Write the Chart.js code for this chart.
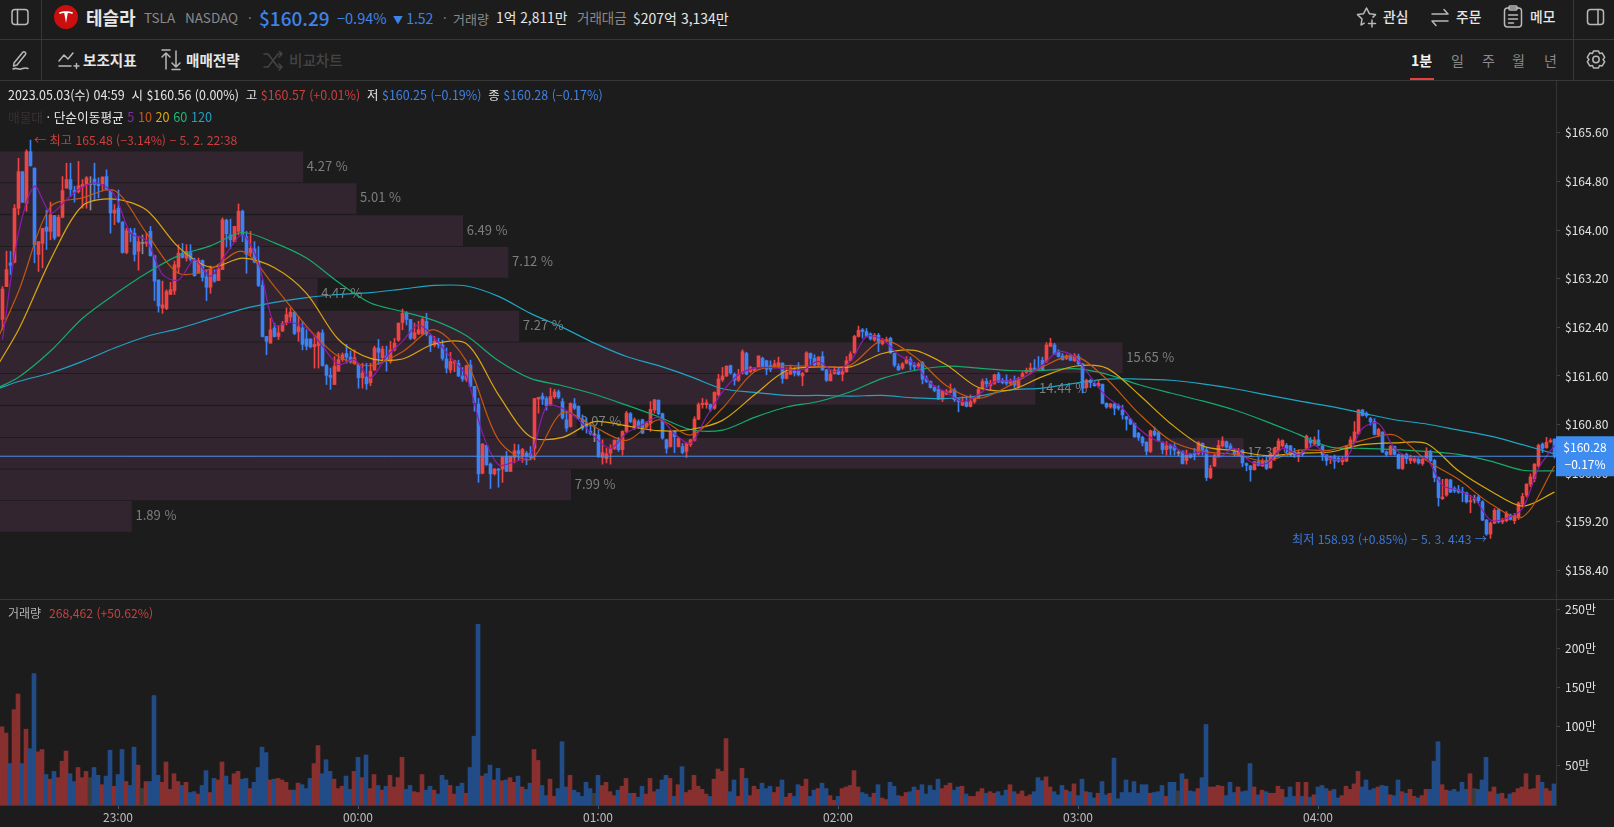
<!DOCTYPE html>
<html lang="ko">
<head>
<meta charset="utf-8">
<title>테슬라 1분봉</title>
<script src="https://cdn.jsdelivr.net/npm/chart.js@4/dist/chart.umd.js"></script>
<style>
html,body{margin:0;padding:0;width:1614px;height:827px;background:#1c1c1c;overflow:hidden;font-family:"Noto Sans CJK KR","Noto Sans",sans-serif;}
canvas{position:absolute;left:0;}
.t{position:absolute;white-space:nowrap;transform:translateY(-50%);line-height:1;color:#e6e6e6;z-index:5;}
.g{color:#8a8a8a}.b{color:#3f83e6}.r{color:#c9403f}.w{color:#e6e6e6}
.hl{position:absolute;background:#383838;z-index:4}
svg{position:absolute;z-index:5;fill:none;stroke:#b8b8b8;stroke-width:1.5;stroke-linecap:round;stroke-linejoin:round}
</style>
</head>
<body>
<canvas id="profile" width="1614" height="518" style="top:81px"></canvas>
<canvas id="price" width="1614" height="518" style="top:81px"></canvas>
<canvas id="volume" width="1614" height="227" style="top:600px"></canvas>

<div class="hl" style="left:0;top:39px;width:1614px;height:1px"></div>
<div class="hl" style="left:0;top:80px;width:1614px;height:1px"></div>
<div class="hl" style="left:0;top:599px;width:1614px;height:1px"></div>
<div class="hl" style="left:41px;top:0;width:1px;height:80px"></div>
<div class="hl" style="left:1573px;top:0;width:1px;height:80px"></div>
<div class="hl" style="left:1410px;top:78px;width:24px;height:2px;background:#e5403f"></div>

<svg style="left:10px;top:8px" width="20" height="18"><rect x="2" y="1.5" width="16" height="15" rx="3"/><path d="M7.5 1.5v15"/></svg>
<svg style="left:54px;top:5px;stroke:none" width="24" height="24"><circle cx="12" cy="12" r="12" fill="#c90f0f"/><path d="M5 7.5c4-1.6 10-1.6 14 0l-.6 1.6c-1.6-.7-3-.9-4.6-1l-1.8 10-1.8-10c-1.6.1-3 .3-4.6 1z" fill="#fff"/></svg>
<span class="t" style="left:86px;top:17px;font-size:18px;font-weight:700">테슬라</span>
<span class="t g" style="left:144px;top:18px;font-size:13.5px;word-spacing:6px">TSLA NASDAQ</span>
<span class="t g" style="left:248px;top:17px;font-size:13px">·</span>
<span class="t b" style="left:259px;top:17px;font-size:19px;font-weight:500">$160.29</span>
<span class="t b" style="left:337px;top:18px;font-size:14.500px">−0.94%</span>
<span class="t b" style="left:393px;top:18px;font-size:14px"><span style="font-size:10px">▼</span> 1.52</span>
<span class="t g" style="left:443px;top:17px;font-size:13px">·</span>
<span class="t g" style="left:453px;top:18px;font-size:13px">거래량</span>
<span class="t" style="left:496px;top:18px;font-size:13.8px">1억 2,811만</span>
<span class="t g" style="left:577px;top:18px;font-size:13.5px">거래대금</span>
<span class="t" style="left:633px;top:18px;font-size:14px">$207억 3,134만</span>

<svg style="left:1356px;top:6px" width="22" height="22"><path d="M8.200 17.200 5 19l1-6L1.500 8.600l6.100-.9L10.500 2l2.900 5.700 6.100.9-2.500 2.500M12.500 17.500h7M16 14v7"/></svg>
<span class="t" style="left:1383px;top:17px;font-size:13.800px;font-weight:500">관심</span>
<svg style="left:1430px;top:6px" width="20" height="22"><path d="M2 8h16M14 3.500 18 8M18 15H2M6 19.500 2 15"/></svg>
<span class="t" style="left:1456px;top:17px;font-size:13.800px;font-weight:500">주문</span>
<svg style="left:1503px;top:5px" width="20" height="24"><rect x="1.500" y="3" width="17" height="19" rx="3"/><rect x="6" y="1" width="8" height="4" rx="1"/><path d="M5.500 10h9M5.500 14h9M5.500 18h5"/></svg>
<span class="t" style="left:1530px;top:17px;font-size:13.800px;font-weight:500">메모</span>
<svg style="left:1586px;top:8px" width="20" height="18"><rect x="1.500" y="1.500" width="16" height="15" rx="3"/><path d="M12 1.500v15"/></svg>

<svg style="left:10px;top:49px" width="22" height="22"><path d="M4 14 13 3c1-1 3.500 .8 2.600 2.200L7 16l-3.500 1zM3 20c4-2 5 1 8 0s4-2 7-.5"/></svg>
<svg style="left:58px;top:51px" width="22" height="20"><path d="M1 10 6 4l4 4 5-6M1 15h12M16 15h5M18.500 12.500v5"/></svg>
<span class="t" style="left:83px;top:60px;font-size:14.600px;font-weight:700">보조지표</span>
<svg style="left:160px;top:49px" width="22" height="22"><path d="M6 20V4M2 8l4-4 4 4M16 2v16M12 14l4 4 4-4M2 1h8M12 20.500h8"/></svg>
<span class="t" style="left:186px;top:60px;font-size:14.600px;font-weight:700">매매전략</span>
<svg style="left:263px;top:51px;stroke:#444" width="22" height="20"><path d="M1 3h4l10 13h4M1 16h4l10-13h4M16 0l3 3-3 3M16 13l3 3-3 3"/></svg>
<span class="t" style="left:289px;top:60px;font-size:14.600px;font-weight:500;color:#444">비교차트</span>

<span class="t" style="left:1411px;top:60px;font-size:14px;font-weight:700;color:#f2f2f2">1분</span>
<span class="t g" style="left:1451px;top:60px;font-size:14px">일</span>
<span class="t g" style="left:1482px;top:60px;font-size:14px">주</span>
<span class="t g" style="left:1512px;top:60px;font-size:14px">월</span>
<span class="t g" style="left:1544px;top:60px;font-size:14px">년</span>
<svg style="left:1585px;top:49px" width="22" height="22"><path d="M8.500 2h5l1 2.500 2.700-.4 2.500 4.300-1.700 2.100 1.700 2.100-2.500 4.300-2.700-.4-1 2.500h-5l-1-2.500-2.700.4-2.500-4.300 1.700-2.100-1.700-2.100 2.500-4.300 2.700.4z"/><circle cx="11" cy="10.500" r="3.200"/></svg>

<span class="t" style="left:8px;top:95px;font-size:12.450px"><span class="w">2023.05.03(수) 04:59</span>&nbsp; <span class="w">시 $160.56 (0.00%)</span>&nbsp; <span class="w">고</span> <span class="r">$160.57 (+0.01%)</span>&nbsp; <span class="w">저</span> <span class="b">$160.25 (−0.19%)</span>&nbsp; <span class="w">종</span> <span class="b">$160.28 (−0.17%)</span></span>
<span class="t" style="left:8px;top:117px;font-size:12.700px"><span style="color:#3a2f35">매물대</span> <span class="w">· 단순이동평균</span> <span style="color:#7b2fa0">5</span> <span style="color:#c8581e">10</span> <span style="color:#dca912">20</span> <span style="color:#1eb878">60</span> <span style="color:#22a0c8">120</span></span>
<span class="t r" style="left:34px;top:140px;font-size:12.200px">← 최고 165.48 (−3.14%) − 5. 2. 22:38</span>
<span class="t b" style="left:1292px;top:539px;font-size:12.100px;color:#3c78d8">최저 158.93 (+0.85%) − 5. 3. 4:43 →</span>
<span class="t" style="left:8px;top:613px;font-size:12px;color:#b5b5b5">거래량</span>
<span class="t r" style="left:49px;top:613px;font-size:12.200px">268,462 (+50.62%)</span>

<script>
const opens=[
162.53,163.07,163.46,163.47,164.36,164.96,164.44,165.29,165.02,163.60,
163.78,164.05,163.98,164.24,163.90,164.21,164.69,164.83,164.65,164.63,
164.71,164.75,164.75,164.84,164.77,164.76,164.88,164.66,164.28,164.36,
164.13,163.63,163.99,163.95,163.65,163.78,163.78,163.98,163.58,163.18,
162.72,162.71,162.94,163.00,163.39,163.62,163.54,163.63,163.51,163.29,
163.50,163.23,163.06,163.27,163.17,163.35,164.16,163.92,163.81,163.98,
164.31,163.89,163.62,163.69,163.49,163.09,162.25,162.14,162.39,162.25,
162.34,162.48,162.57,162.65,162.33,162.39,162.21,162.21,162.08,162.10,
162.31,161.77,161.61,161.46,161.68,161.87,161.97,161.91,161.81,161.79,
161.57,161.58,161.49,161.70,162.06,161.90,161.93,161.84,162.03,162.19,
162.48,162.63,162.53,162.22,162.30,162.29,162.50,162.26,162.11,162.16,
162.11,161.88,161.70,161.81,161.81,161.60,161.54,161.78,161.43,161.14,
160.00,160.46,160.15,159.99,160.07,160.07,160.28,160.03,160.26,160.37,
160.28,160.33,160.33,160.41,161.22,161.27,161.23,161.13,161.26,161.34,
161.18,160.88,160.77,161.14,161.10,160.89,160.82,160.69,160.63,160.63,
160.26,160.24,160.33,160.41,160.54,160.39,160.69,160.98,160.74,160.85,
160.88,160.76,160.82,161.04,161.20,160.98,160.55,160.44,160.69,160.44,
160.44,160.36,160.47,160.54,160.89,161.13,161.13,161.13,161.07,161.29,
161.54,161.60,161.77,161.63,161.53,161.65,161.97,161.67,161.69,161.74,
161.89,161.85,161.77,161.74,161.74,161.81,161.56,161.63,161.70,161.70,
161.60,161.67,161.97,161.89,161.78,161.92,161.70,161.52,161.64,161.70,
161.63,161.67,161.85,161.98,162.25,162.36,162.33,162.29,162.19,162.27,
162.13,162.17,162.22,161.97,161.76,161.73,161.81,161.87,161.78,161.76,
161.82,161.55,161.51,161.41,161.38,161.22,161.30,161.33,161.37,161.22,
161.12,161.17,161.10,161.18,161.24,161.40,161.51,161.44,161.48,161.63,
161.53,161.53,161.48,161.53,161.43,161.58,161.66,161.67,161.73,161.73,
161.86,161.84,162.09,162.11,162.00,161.93,161.89,161.92,161.85,161.92,
161.80,161.41,161.53,161.48,161.44,161.46,161.15,161.09,161.14,161.11,
161.04,160.93,160.89,160.82,160.66,160.59,160.51,160.36,160.69,160.67,
160.50,160.39,160.45,160.44,160.33,160.36,160.21,160.31,160.33,160.32,
160.49,160.38,159.93,160.12,160.28,160.45,160.52,160.45,160.36,160.30,
160.38,160.16,160.12,160.06,160.19,160.12,160.21,160.09,160.24,160.37,
160.45,160.46,160.45,160.35,160.28,160.35,160.41,160.54,160.48,160.55,
160.45,160.30,160.23,160.26,160.25,160.19,160.20,160.45,160.52,160.65,
161.04,160.98,160.90,160.85,160.63,160.68,160.35,160.31,160.44,160.31,
160.08,160.31,160.21,160.20,160.23,160.16,160.24,160.36,160.21,159.93,
159.58,159.64,159.89,159.75,159.73,159.69,159.68,159.53,159.56,159.61,
159.53,159.23,159.00,159.18,159.40,159.20,159.22,159.31,159.22,159.27,
159.49,159.64,159.82,159.91,160.12,160.48,160.42,160.52,160.56];
const closes=[
163.03,163.35,163.42,164.36,164.96,164.46,165.29,165.06,163.76,163.81,
164.03,163.98,164.25,163.87,164.21,164.65,164.83,164.67,164.62,164.73,
164.75,164.86,164.75,164.75,164.73,164.87,164.67,164.28,164.33,164.14,
163.63,163.99,163.96,163.60,163.81,163.78,163.81,163.58,163.16,162.75,
162.77,162.99,163.02,163.43,163.62,163.55,163.65,163.52,163.25,163.50,
163.22,163.06,163.36,163.16,163.36,164.17,163.94,163.84,164.06,164.31,
163.92,163.60,163.70,163.47,163.09,162.25,162.17,162.36,162.25,162.31,
162.46,162.61,162.65,162.30,162.41,162.12,162.09,162.08,162.12,162.31,
161.77,161.61,161.58,161.76,161.87,161.95,161.91,161.84,161.90,161.57,
161.65,161.47,161.68,162.06,161.99,162.04,161.86,162.03,162.14,162.47,
162.63,162.53,162.22,162.31,162.36,162.53,162.29,162.11,162.17,162.11,
161.89,161.73,161.84,161.85,161.60,161.55,161.77,161.43,161.16,159.99,
160.48,160.14,159.99,160.07,160.05,160.26,160.03,160.28,160.37,160.32,
160.39,160.28,160.26,161.23,161.25,161.22,161.11,161.26,161.34,161.25,
160.91,160.74,161.15,161.07,160.91,160.74,160.77,160.65,160.63,160.28,
160.34,160.32,160.41,160.54,160.39,160.69,160.99,160.85,160.88,160.77,
160.66,160.83,161.05,161.21,160.98,160.58,160.41,160.69,160.60,160.58,
160.34,160.49,160.55,160.89,161.13,161.15,161.16,161.05,161.33,161.55,
161.60,161.76,161.65,161.53,161.63,162.00,161.63,161.74,161.73,161.93,
161.74,161.71,161.71,161.80,161.82,161.56,161.66,161.74,161.65,161.62,
161.64,161.98,161.89,161.78,161.91,161.70,161.53,161.63,161.70,161.63,
161.67,161.85,161.96,162.25,162.35,162.33,162.25,162.21,162.27,162.14,
162.18,162.20,161.98,161.78,161.70,161.80,161.87,161.78,161.75,161.80,
161.55,161.51,161.41,161.36,161.22,161.36,161.34,161.36,161.21,161.18,
161.18,161.10,161.18,161.26,161.38,161.51,161.47,161.48,161.62,161.51,
161.49,161.48,161.52,161.45,161.56,161.64,161.69,161.73,161.71,161.71,
161.70,162.11,162.14,161.96,161.92,161.87,161.93,161.86,161.93,161.80,
161.40,161.53,161.49,161.44,161.48,161.15,161.09,161.14,161.07,161.07,
160.96,160.89,160.81,160.60,160.59,160.50,160.36,160.70,160.63,160.54,
160.39,160.45,160.41,160.38,160.33,160.16,160.30,160.26,160.30,160.50,
160.38,159.93,160.08,160.30,160.46,160.53,160.43,160.39,160.31,160.37,
160.17,160.13,160.06,160.19,160.13,160.20,160.08,160.32,160.41,160.53,
160.54,160.41,160.30,160.30,160.34,160.31,160.61,160.50,160.55,160.46,
160.30,160.21,160.26,160.20,160.20,160.24,160.45,160.55,160.68,161.04,
160.95,160.95,160.85,160.64,160.72,160.35,160.31,160.44,160.31,160.08,
160.30,160.24,160.26,160.24,160.17,160.23,160.36,160.21,159.93,159.60,
159.61,159.90,159.69,159.71,159.69,159.68,159.53,159.55,159.56,159.55,
159.23,159.00,159.18,159.39,159.20,159.23,159.34,159.24,159.31,159.51,
159.62,159.82,159.94,160.15,160.46,160.41,160.51,160.54,160.28];
const highs=[
163.07,163.65,163.65,164.42,165.18,164.96,165.32,165.48,165.02,163.81,
164.03,164.33,164.46,164.24,164.25,164.88,165.10,165.10,164.72,165.13,
164.83,164.88,164.88,165.10,164.86,164.88,164.99,164.66,164.42,164.66,
164.14,164.03,164.03,164.03,163.90,163.92,163.95,164.06,163.58,163.18,
163.16,163.02,163.14,163.49,163.76,163.78,163.76,163.76,163.54,163.54,
163.51,163.35,163.41,163.35,163.43,164.20,164.18,164.18,164.06,164.43,
164.33,163.98,163.98,163.81,163.73,163.18,162.25,162.55,162.47,162.42,
162.50,162.72,162.72,162.66,162.58,162.50,162.36,162.21,162.25,162.33,
162.36,161.79,161.73,161.92,161.97,161.98,162.12,162.01,162.03,161.81,
161.81,161.81,161.81,162.09,162.20,162.09,162.09,162.17,162.22,162.47,
162.70,162.66,162.53,162.47,162.50,162.57,162.63,162.28,162.25,162.22,
162.19,162.06,161.99,161.86,161.86,161.74,161.78,161.86,161.43,161.23,
160.49,160.46,160.17,160.08,160.08,160.28,160.36,160.28,160.48,160.47,
160.41,160.36,160.44,161.23,161.25,161.32,161.26,161.40,161.38,161.37,
161.23,161.02,161.16,161.23,161.11,160.96,160.91,160.82,160.77,160.71,
160.55,160.41,160.47,160.55,160.59,160.70,161.02,161.00,160.91,160.88,
160.89,160.85,161.18,161.21,161.21,160.99,160.56,160.70,160.70,160.59,
160.49,160.51,160.56,160.93,161.16,161.23,161.21,161.14,161.34,161.63,
161.74,161.77,161.78,161.65,161.71,162.03,161.99,161.76,161.74,161.93,
161.91,161.86,161.85,161.86,161.91,161.82,161.74,161.78,161.74,161.82,
161.66,162.00,161.98,161.95,161.92,162.00,161.71,161.71,161.75,161.73,
161.75,161.92,162.00,162.27,162.42,162.38,162.38,162.31,162.30,162.30,
162.22,162.24,162.24,161.98,161.80,161.82,161.92,161.91,161.82,161.82,
161.84,161.60,161.52,161.44,161.44,161.36,161.38,161.47,161.40,161.23,
161.26,161.27,161.29,161.27,161.41,161.55,161.56,161.53,161.63,161.66,
161.56,161.62,161.55,161.60,161.58,161.67,161.73,161.81,161.87,161.92,
161.91,162.15,162.22,162.14,162.03,161.97,161.95,161.96,161.97,161.96,
161.81,161.55,161.55,161.52,161.53,161.47,161.16,161.15,161.15,161.14,
161.12,160.94,160.90,160.83,160.67,160.61,160.52,160.71,160.76,160.69,
160.52,160.52,160.48,160.49,160.37,160.37,160.38,160.33,160.41,160.52,
160.50,160.41,160.13,160.32,160.54,160.60,160.53,160.49,160.41,160.41,
160.39,160.17,160.13,160.20,160.26,160.24,160.27,160.33,160.43,160.57,
160.55,160.49,160.46,160.41,160.38,160.37,160.63,160.59,160.60,160.71,
160.46,160.31,160.28,160.30,160.27,160.27,160.46,160.60,160.85,161.05,
161.05,161.01,160.92,160.90,160.74,160.68,160.37,160.46,160.45,160.32,
160.31,160.33,160.30,160.28,160.26,160.26,160.42,160.38,160.23,159.94,
159.90,159.91,159.90,159.78,159.80,159.77,159.69,159.64,159.64,159.64,
159.55,159.24,159.20,159.42,159.42,159.26,159.37,159.33,159.34,159.53,
159.67,159.83,159.99,160.16,160.48,160.50,160.59,160.57,160.57];
const lows=[
162.36,163.07,163.27,163.46,164.25,164.45,164.31,165.05,163.46,163.32,
163.38,163.68,163.84,163.84,163.90,164.20,164.69,164.55,164.46,164.61,
164.36,164.36,164.33,164.50,164.53,164.64,164.66,163.95,164.09,164.12,
163.62,163.61,163.81,163.49,163.34,163.61,163.73,163.57,162.84,162.65,
162.63,162.69,162.94,162.94,163.29,163.54,163.49,163.49,163.24,163.29,
163.16,162.84,162.96,163.14,163.17,163.35,163.72,163.70,163.80,163.92,
163.81,163.29,163.58,163.46,163.07,162.24,161.95,162.14,162.24,162.20,
162.33,162.44,162.50,162.28,162.17,162.03,162.03,162.06,161.73,161.73,
161.76,161.46,161.38,161.46,161.68,161.84,161.81,161.81,161.79,161.40,
161.40,161.38,161.44,161.69,161.79,161.81,161.68,161.81,162.01,162.17,
162.36,162.44,162.20,162.20,162.28,162.28,162.26,162.00,162.08,162.06,
161.86,161.65,161.65,161.67,161.59,161.51,161.51,161.42,161.02,159.85,
159.99,160.13,159.75,159.97,159.77,159.85,160.03,160.03,160.17,160.22,
160.18,160.14,160.22,160.22,160.99,161.13,161.04,161.11,161.23,161.23,
160.89,160.69,160.76,161.05,160.89,160.71,160.66,160.63,160.52,160.26,
160.15,160.17,160.15,160.39,160.36,160.30,160.67,160.83,160.72,160.74,
160.65,160.74,160.69,160.99,160.96,160.56,160.33,160.43,160.34,160.43,
160.32,160.26,160.44,160.53,160.88,161.07,161.07,161.02,161.05,161.27,
161.51,161.59,161.63,161.45,161.51,161.63,161.62,161.65,161.67,161.73,
161.73,161.62,161.67,161.73,161.74,161.48,161.55,161.62,161.60,161.60,
161.44,161.66,161.78,161.76,161.76,161.69,161.51,161.52,161.63,161.62,
161.52,161.66,161.85,161.97,162.24,162.22,162.24,162.19,162.17,162.00,
162.11,162.15,161.97,161.75,161.69,161.71,161.80,161.70,161.69,161.73,
161.47,161.49,161.40,161.34,161.21,161.18,161.29,161.32,161.18,161.01,
161.11,161.09,161.09,161.15,161.23,161.38,161.41,161.37,161.46,161.49,
161.47,161.45,161.44,161.41,161.40,161.56,161.64,161.66,161.70,161.70,
161.69,161.82,162.08,161.95,161.91,161.86,161.87,161.85,161.84,161.78,
161.32,161.40,161.41,161.43,161.41,161.14,161.07,161.07,160.96,161.04,
160.89,160.71,160.80,160.59,160.54,160.45,160.30,160.34,160.61,160.52,
160.32,160.30,160.30,160.30,160.29,160.15,160.15,160.25,160.22,160.30,
160.30,159.88,159.91,160.11,160.27,160.43,160.41,160.38,160.28,160.28,
160.11,160.04,159.87,160.05,160.12,160.11,160.06,160.08,160.21,160.35,
160.43,160.30,160.28,160.26,160.19,160.28,160.39,160.43,160.46,160.45,
160.21,160.13,160.16,160.08,160.18,160.14,160.19,160.43,160.50,160.64,
160.94,160.92,160.79,160.63,160.60,160.34,160.28,160.30,160.30,160.07,
160.06,160.16,160.16,160.17,160.15,160.13,160.21,160.19,159.86,159.46,
159.57,159.62,159.68,159.68,159.67,159.53,159.51,159.35,159.51,159.51,
159.22,158.98,158.93,159.17,159.18,159.17,159.20,159.23,159.17,159.24,
159.44,159.61,159.78,159.86,160.10,160.34,160.41,160.50,160.25];
const volumesMan=[
100,92,53,122,142,53,97,72,168,68,
71,39,33,43,35,56,69,40,30,48,
35,43,35,48,38,26,37,70,24,39,
71,30,25,74,51,21,30,30,140,38,
29,55,20,40,30,25,29,16,17,14,
25,44,16,34,32,55,37,26,40,43,
33,34,21,29,48,74,67,32,33,34,
32,29,19,19,28,26,21,34,53,76,
40,58,43,33,21,24,37,20,43,61,
35,64,21,39,25,19,24,38,23,35,
61,20,25,17,16,39,19,24,19,14,
38,32,25,14,24,28,15,48,88,231,
37,40,51,32,47,31,32,35,29,37,
23,20,28,71,57,25,12,33,11,21,
81,23,38,19,16,11,29,21,15,38,
25,29,17,12,19,24,34,15,15,10,
24,14,34,17,20,32,38,34,11,26,
49,16,19,38,24,20,14,11,33,46,
43,85,17,32,11,47,34,12,24,20,
28,21,24,16,23,32,10,15,11,26,
24,33,11,19,21,28,21,12,6,11,
21,23,25,44,23,16,14,10,15,26,
9,7,29,24,12,11,16,17,23,19,
26,14,25,19,33,21,25,28,19,23,
24,14,11,11,17,21,15,17,15,17,
12,19,26,17,14,18,11,13,17,35,
31,36,23,17,13,25,19,17,27,12,
33,17,16,9,15,30,13,15,60,8,
16,32,16,30,15,26,26,15,16,17,
25,11,29,29,18,40,33,18,17,21,
35,103,23,23,25,24,12,29,16,23,
17,18,53,23,13,19,17,15,15,24,
20,10,23,11,29,11,29,10,13,23,
25,21,18,20,9,12,24,20,27,43,
23,32,19,21,23,25,24,13,12,32,
17,15,20,11,9,12,20,20,56,81,
26,19,18,20,17,29,20,40,21,20,
32,61,17,23,14,15,8,14,16,21,
23,40,20,21,38,29,21,18,27];
const ma5=[162.20,163.95,164.72,164.28,164.50,164.71,164.77,164.58,163.95,163.83,163.27,163.18,163.51,163.24,163.62,163.92,163.46,162.44,162.48,162.39,162.09,161.79,161.87,161.57,161.92,
162.17,162.44,162.22,161.91,161.59,160.66,160.14,160.19,160.30,161.10,161.07,160.88,160.60,160.41,160.66,160.80,160.92,160.65,160.49,160.93,161.34,161.62,161.73,161.74,161.71,
161.70,161.84,161.67,161.84,162.25,162.20,161.95,161.80,161.48,161.33,161.18,161.29,161.51,161.52,161.60,161.78,162.00,161.92,161.59,161.26,161.07,160.74,160.55,160.47,160.32,
160.35,160.26,160.41,160.19,160.16,160.41,160.31,160.46,160.24,160.26,160.74,160.82,160.41,160.26,160.24,159.80,159.72,159.58,159.23,159.26,159.42,160.08,160.46];
const ma10=[161.81,162.99,164.38,164.53,164.65,163.95,163.29,163.36,163.65,163.07,162.42,161.92,161.77,
162.00,162.36,161.84,160.55,160.23,161.00,160.76,160.54,160.88,160.63,161.07,161.67,161.77,
161.75,161.78,162.19,161.92,161.44,161.23,161.45,161.75,161.93,161.55,160.99,160.54,
160.36,160.31,160.20,160.38,160.38,160.54,160.63,160.21,159.90,159.50,159.28,160.12];
const ma20=[161.48,162.36,163.51,164.40,164.51,164.33,163.72,163.39,163.54,163.38,162.96,162.20,161.89,
161.88,162.13,162.13,161.29,160.60,160.59,160.85,160.78,160.70,160.72,160.87,161.29,161.69,
161.75,161.75,161.97,162.02,161.78,161.41,161.37,161.59,161.76,161.73,161.30,160.82,
160.45,160.37,160.29,160.33,160.35,160.47,160.50,160.49,160.04,159.71,159.46,159.69];
const ma60=[161.32,161.58,162.01,162.55,162.94,163.29,163.58,163.74,163.96,163.79,163.54,163.14,162.80,
162.66,162.51,162.26,161.85,161.56,161.44,161.30,161.12,160.93,160.72,160.71,160.92,161.09,
161.18,161.34,161.56,161.69,161.76,161.73,161.69,161.69,161.72,161.63,161.46,161.32,
161.19,161.04,160.85,160.64,160.43,160.41,160.39,160.36,160.31,160.20,160.05,160.04];
const ma120=[161.32,161.51,161.65,161.84,162.06,162.25,162.38,162.54,162.70,162.81,162.89,162.94,162.97,
163.03,163.09,163.08,162.91,162.63,162.40,162.14,161.92,161.77,161.59,161.39,161.33,161.28,
161.28,161.27,161.28,161.24,161.23,161.27,161.37,161.40,161.48,161.55,161.55,161.53,
161.47,161.39,161.29,161.19,161.10,160.99,160.88,160.81,160.71,160.61,160.47,160.32];
const profilePrices=[165.04,164.52,163.99,163.47,162.95,162.42,161.90,161.38,160.85,160.33,159.81,159.29];
const profilePercents=[4.27,5.01,6.49,7.12,4.47,7.27,15.65,14.44,8.07,17.33,7.99,1.89];
const priceTicks=[165.6,164.8,164.0,163.2,162.4,161.6,160.8,160.0,159.2,158.4];
const volumeTicksMan=[250,200,150,100,50];
const timeTickIndex=[29,89,149,209,269,329];
const timeTickLabels=['23:00','00:00','01:00','02:00','03:00','04:00'];
const lastPrice=160.28;
const lastChange='−0.17%';

const UP='#ef4444',DOWN='#3b82f6',FLAT='#8c8c8c';
const BG_UP='#87302f',BG_DOWN='#214c87',BG_FLAT='#3c3c3c';
const FONT='"Noto Sans CJK KR","Noto Sans",sans-serif';
const Y_MIN=157.932,Y_MAX=166.452;
const candleColor=i=>closes[i]>opens[i]?UP:closes[i]<opens[i]?DOWN:FLAT;
const volColor=i=>closes[i]>opens[i]?BG_UP:closes[i]<opens[i]?BG_DOWN:BG_FLAT;
const strided=(v,start,step)=>v.map((y,k)=>({x:start+k*step,y}));
const noPad=s=>{s.paddingTop=0;s.paddingBottom=0;s.paddingLeft=0;s.paddingRight=0;};
const rightAxis=s=>{s.width=58;noPad(s);};
const lineDs=(data,color,order)=>({type:'line',data,borderColor:color,borderWidth:1.2,pointRadius:0,tension:0.3,order});

new Chart(document.getElementById('profile'),{
  type:'bar',
  data:{datasets:[{
    data:profilePrices.map((y,k)=>({x:profilePercents[k],y})),
    backgroundColor:'#33252f',barThickness:30
  }]},
  options:{
    indexAxis:'y',responsive:false,animation:false,devicePixelRatio:1,
    layout:{padding:{right:58,left:0,top:0,bottom:0}},
    plugins:{legend:{display:false},tooltip:{enabled:false}},
    scales:{
      x:{type:'linear',display:false,min:0.064,max:21.675},
      y:{type:'linear',display:false,min:Y_MIN,max:Y_MAX,offset:false}
    }
  },
  plugins:[{id:'profileLabels',afterDatasetsDraw(c){
    const g=c.ctx;g.save();
    g.fillStyle='#7e7e7e';g.font='13px '+FONT;g.textBaseline='middle';
    profilePrices.forEach((p,k)=>{
      g.fillText(profilePercents[k].toFixed(2)+' %',c.scales.x.getPixelForValue(profilePercents[k])+4,c.scales.y.getPixelForValue(p)-1);
    });
    g.restore();
  }}]
});

new Chart(document.getElementById('price'),{
  type:'bar',
  data:{datasets:[
    {data:opens.map((o,i)=>({x:i,y:[lows[i],highs[i]]})),backgroundColor:opens.map((o,i)=>candleColor(i)),barThickness:1,grouped:false,order:10},
    {data:opens.map((o,i)=>({x:i,y:[o,closes[i]]})),backgroundColor:opens.map((o,i)=>candleColor(i)),barThickness:3,minBarLength:1,grouped:false,order:9},
    lineDs(strided(ma120,-4,8),'#1ea4c4',6),
    lineDs(strided(ma60,-4,8),'#14ab6c',5),
    lineDs(strided(ma20,-4,8),'#d8a70e',4),
    lineDs(strided(ma10,-4,8),'#c4570f',3),
    lineDs(strided(ma5,0,4),'#8d1bb0',2),
    {type:'line',data:[{x:-1,y:lastPrice},{x:389,y:lastPrice}],borderColor:'#4a90ee',borderWidth:1,pointRadius:0,order:1}
  ]},
  options:{
    responsive:false,animation:false,devicePixelRatio:1,
    layout:{padding:0},
    plugins:{legend:{display:false},tooltip:{enabled:false}},
    scales:{
      x:{type:'linear',display:false,min:-0.625,max:388.375,offset:false},
      y:{type:'linear',position:'right',min:Y_MIN,max:Y_MAX,
        afterBuildTicks:a=>{a.ticks=priceTicks.map(value=>({value}));},
        afterFit:rightAxis,
        border:{color:'#333333'},
        grid:{drawOnChartArea:false,tickLength:4,color:'#444444'},
        ticks:{color:'#e2e2e2',font:{size:12,family:FONT},padding:5,autoSkip:false,callback:v=>'$'+Number(v).toFixed(2)}
      }
    }
  },
  plugins:[{id:'lastBox',afterDraw(c){
    const g=c.ctx,y=c.scales.y.getPixelForValue(lastPrice);
    g.save();
    g.fillStyle='#3f8cf0';g.fillRect(1556,y-20,58,40);
    g.fillStyle='#fff';g.font='12px '+FONT;g.textAlign='center';g.textBaseline='middle';
    g.fillText('$'+lastPrice.toFixed(2),1585,y-9);
    g.fillText(lastChange,1585,y+8);
    g.restore();
  }}]
});

new Chart(document.getElementById('volume'),{
  type:'bar',
  data:{datasets:[{
    data:volumesMan.map((v,i)=>({x:i,y:v*10000})),
    backgroundColor:volumesMan.map((v,i)=>volColor(i)),barThickness:4
  }]},
  options:{
    responsive:false,animation:false,devicePixelRatio:1,
    layout:{padding:0},
    plugins:{legend:{display:false},tooltip:{enabled:false}},
    scales:{
      x:{type:'linear',position:'bottom',min:-0.5,max:388.5,offset:false,
        afterBuildTicks:a=>{a.ticks=timeTickIndex.map(value=>({value}));},
        afterFit:s=>{s.height=22;noPad(s);},
        border:{color:'#3a3a3a'},
        grid:{drawOnChartArea:false,offset:false,tickLength:4,color:'#555555'},
        ticks:{color:'#bdbdbd',font:{size:12,family:FONT},padding:1,autoSkip:false,maxRotation:0,
          callback:v=>timeTickLabels[timeTickIndex.indexOf(v)]}
      },
      y:{type:'linear',position:'right',min:0,max:2621500,
        afterBuildTicks:a=>{a.ticks=volumeTicksMan.map(v=>({value:v*10000}));},
        afterFit:rightAxis,
        border:{color:'#333333'},
        grid:{drawOnChartArea:false,tickLength:4,color:'#444444'},
        ticks:{color:'#e2e2e2',font:{size:12,family:FONT},padding:5,autoSkip:false,callback:v=>(v/10000)+'만'}
      }
    }
  }
});
</script>
</body>
</html>
